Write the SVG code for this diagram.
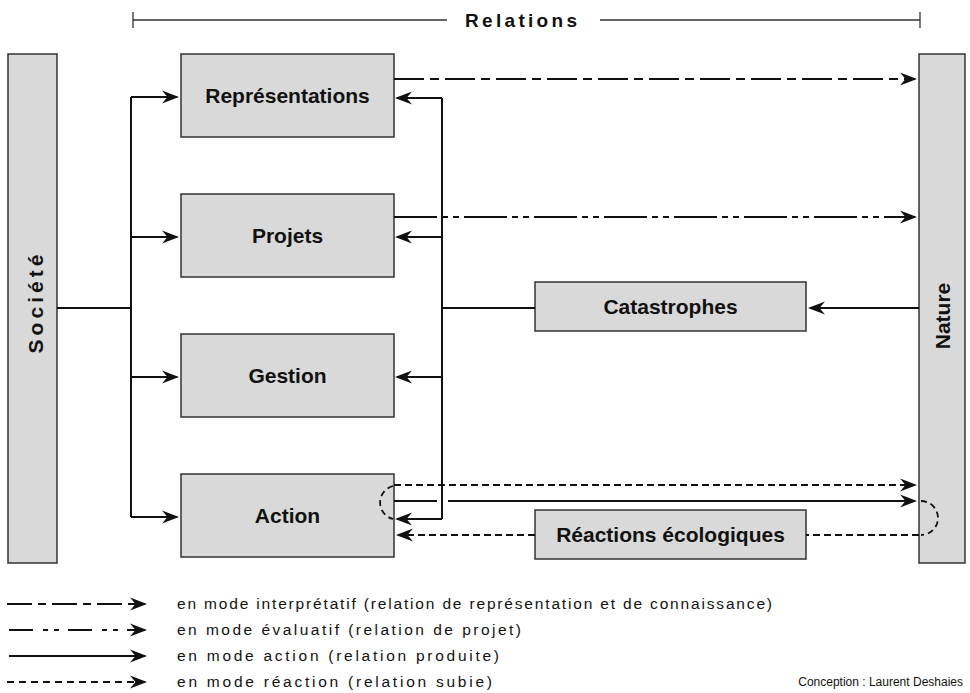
<svg xmlns="http://www.w3.org/2000/svg" width="970" height="693" viewBox="0 0 970 693">
<style>
.box{fill:#d9d9d9;stroke:#333;stroke-width:1.5}
.lbl{font-family:"Liberation Sans",Arial,sans-serif;font-weight:bold;font-size:21px;fill:#111;text-anchor:middle}
.ln{fill:none;stroke:#111;stroke-width:2}
.arr{marker-end:url(#ah)}
.interp{stroke-dasharray:30 6 9 6}
.eval{stroke-dasharray:43 5 6 5 6 5}
.react{stroke-dasharray:7 4}
.leg{font-family:"Liberation Sans",Arial,sans-serif;font-size:15.5px;fill:#111}
</style>
<defs>
<marker id="ah" viewBox="-18 -8 22 16" refX="0" refY="0" markerWidth="22" markerHeight="16" markerUnits="userSpaceOnUse" orient="auto">
<path d="M2,0 L-15,-6.5 L-9.5,0 L-15,6.5 Z" fill="#111"/>
</marker>
</defs>
<rect width="970" height="693" fill="#fff"/>

<g id="title">
<path d="M133,20 H447 M600,20 H920 M133,12 V28 M920,12 V28" fill="none" stroke="#333" stroke-width="1.3"/>
<text x="465" y="27" font-family="Liberation Sans,Arial,sans-serif" font-weight="bold" font-size="19" fill="#111" textLength="112" lengthAdjust="spacing">Relations</text>
</g>

<g id="societe">
<rect class="box" x="8" y="54" width="49" height="509"/>
<text class="lbl" transform="translate(43,304) rotate(-90)" x="0" y="0" font-size="22" textLength="99" lengthAdjust="spacing">Société</text>
</g>
<g id="nature">
<rect class="box" x="919" y="54" width="46" height="509"/>
<text class="lbl" transform="translate(950,316) rotate(-90)" x="0" y="0">Nature</text>
</g>
<g id="representations">
<rect class="box" x="181" y="54" width="213" height="83"/>
<text class="lbl" x="287.5" y="103">Représentations</text>
</g>
<g id="projets">
<rect class="box" x="181" y="194" width="213" height="83"/>
<text class="lbl" x="287.5" y="243">Projets</text>
</g>
<g id="gestion">
<rect class="box" x="181" y="334" width="213" height="83"/>
<text class="lbl" x="287.5" y="383">Gestion</text>
</g>
<g id="action">
<rect class="box" x="181" y="474" width="213" height="83"/>
<text class="lbl" x="287.5" y="523">Action</text>
</g>
<g id="catastrophes">
<rect class="box" x="535" y="282" width="271" height="49"/>
<text class="lbl" x="670.5" y="314">Catastrophes</text>
</g>
<g id="reactions">
<rect class="box" x="535" y="510" width="271" height="49"/>
<text class="lbl" x="670.5" y="542">Réactions écologiques</text>
</g>

<g id="connectors">
<path class="ln" d="M57,308 H131 M131,97 V517"/>
<path class="ln arr" d="M131,97 H177"/>
<path class="ln arr" d="M131,237 H177"/>
<path class="ln arr" d="M131,377 H177"/>
<path class="ln arr" d="M131,517 H177"/>
<path class="ln" d="M535,308 H442 M442,98 V519"/>
<path class="ln arr" d="M442,98 H397"/>
<path class="ln arr" d="M442,237 H397"/>
<path class="ln arr" d="M442,377 H397"/>
<path class="ln arr" d="M442,519 H397"/>
<path class="ln arr interp" d="M394,79 H915"/>
<path class="ln arr eval" d="M394,217 H915"/>
<path class="ln arr" d="M919,308 H810"/>
<path class="ln arr react" d="M394,485 H915"/>
<path class="ln" d="M394,501 H437"/>
<path class="ln arr" d="M448,501 H915"/>
<path d="M393,486 A17,17 0 0 0 393,519" fill="none" stroke="#111" stroke-width="1.8" stroke-dasharray="6 4"/>
<path d="M921,501 A17,17 0 0 1 921,535" fill="none" stroke="#111" stroke-width="1.8" stroke-dasharray="6 4"/>
<path class="ln react" d="M919,535 H806"/>
<path class="ln arr react" d="M535,535 H398"/>
</g>

<g id="legend">
<path class="ln arr" d="M7,604 H145" style="stroke-dasharray:25 6 8 6"/>
<path class="ln arr" d="M9,630 H145" style="stroke-dasharray:24 10 5 6 5 9"/>
<path class="ln arr" d="M9,656 H145"/>
<path class="ln arr" d="M7,682 H145" style="stroke-dasharray:7 5"/>
<text class="leg" x="177" y="609" textLength="595" lengthAdjust="spacing">en mode interprétatif (relation de représentation et de connaissance)</text>
<text class="leg" x="177" y="635" textLength="344" lengthAdjust="spacing">en mode évaluatif (relation de projet)</text>
<text class="leg" x="177" y="661" textLength="322" lengthAdjust="spacing">en mode action (relation produite)</text>
<text class="leg" x="177" y="687" textLength="315" lengthAdjust="spacing">en mode réaction (relation subie)</text>
<text x="963" y="686" text-anchor="end" font-family="Liberation Sans,Arial,sans-serif" font-size="12" fill="#111">Conception : Laurent Deshaies</text>
</g>
</svg>
